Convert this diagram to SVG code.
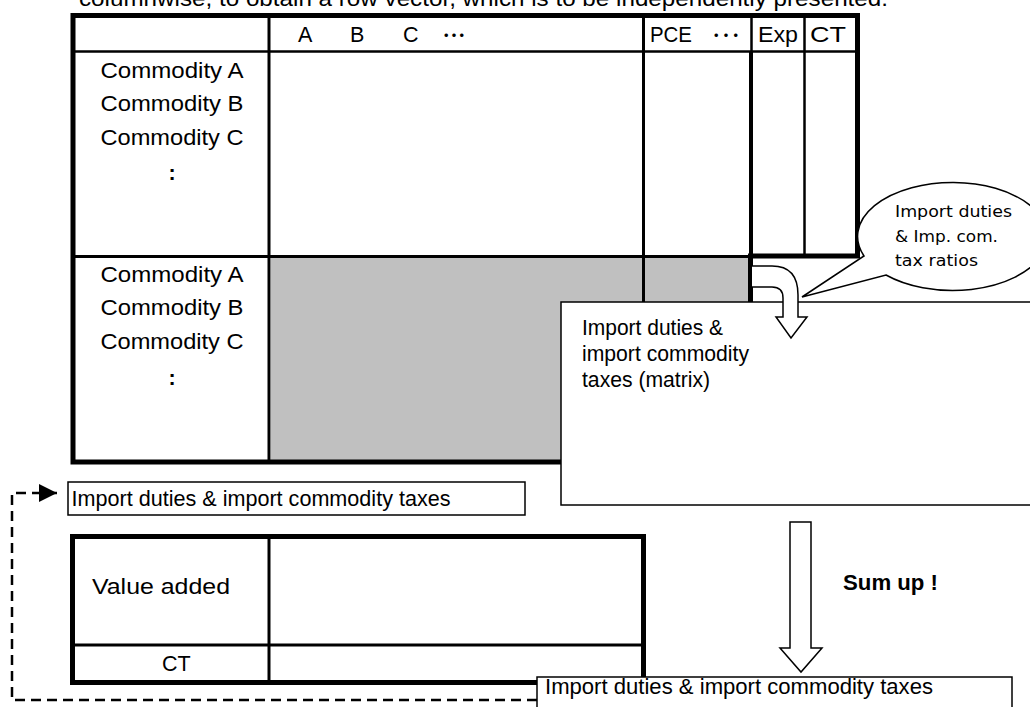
<svg xmlns="http://www.w3.org/2000/svg" width="1030" height="707" viewBox="0 0 1030 707">
<style>
.t{font-family:"Liberation Sans",Arial,sans-serif;font-size:21.5px;fill:#000}
.b{font-weight:bold}
.c{font-family:"DejaVu Sans","Noto Sans CJK JP",sans-serif;font-size:16.5px;fill:#000}
.d{font-family:"Liberation Sans","Noto Sans CJK JP",sans-serif;font-size:21px;fill:#000}
.thick{fill:none;stroke:#000;stroke-width:5}
.mid{fill:none;stroke:#000;stroke-width:3}
.thin{fill:none;stroke:#000;stroke-width:1.5}
.shape{fill:#fff;stroke:#000;stroke-width:1.5}
</style>
<defs>
<marker id="ah" markerUnits="userSpaceOnUse" markerWidth="20" markerHeight="20" refX="18" refY="9" orient="auto">
<path d="M0,0 L18,9 L0,18 Z" fill="#000"/>
</marker>
</defs>
<rect width="1030" height="707" fill="#fff"/>
<text class="t" x="79" y="6" textLength="809" lengthAdjust="spacingAndGlyphs">columnwise, to obtain a row vector, which is to be independently presented.</text>

<g id="io-table">
<rect x="271" y="258" width="478" height="203" fill="#c0c0c0"/>
<path class="thick" d="M73,15.5 H857.5 V256 H750.5 V462 H73 Z"/>
<line class="mid" x1="73" y1="51.5" x2="857" y2="51.5" style="stroke-width:2.5"/>
<line class="mid" x1="73" y1="256.5" x2="750" y2="256.5"/>
<line class="mid" x1="269" y1="15" x2="269" y2="462"/>
<line class="mid" x1="643.5" y1="15" x2="643.5" y2="462"/>
<line class="mid" x1="751.5" y1="15" x2="751.5" y2="52" style="stroke-width:2.5"/>
<line class="mid" x1="751" y1="52" x2="751" y2="256" style="stroke-width:4"/>
<line class="mid" x1="804.5" y1="15" x2="804.5" y2="256" style="stroke-width:2.5"/>
<text class="t" x="298" y="42">A</text>
<text class="t" x="350" y="42">B</text>
<text class="t" x="403" y="42">C</text>
<text class="d" x="441" y="43" textLength="26" lengthAdjust="spacing">･･･</text>
<text class="t" x="650" y="42" textLength="42" lengthAdjust="spacingAndGlyphs">PCE</text>
<text class="d" x="711" y="43" textLength="30" lengthAdjust="spacing">･･･</text>
<text class="t" x="758" y="42" textLength="40" lengthAdjust="spacingAndGlyphs">Exp</text>
<text class="t" x="810" y="42" textLength="36" lengthAdjust="spacingAndGlyphs">CT</text>
<text class="t" x="172" y="78" text-anchor="middle" textLength="143" lengthAdjust="spacingAndGlyphs">Commodity A</text>
<text class="t" x="172" y="111" text-anchor="middle" textLength="143" lengthAdjust="spacingAndGlyphs">Commodity B</text>
<text class="t" x="172" y="145" text-anchor="middle" textLength="143" lengthAdjust="spacingAndGlyphs">Commodity C</text>
<text class="t b" x="172" y="180" text-anchor="middle">:</text>
<text class="t" x="172" y="282" text-anchor="middle" textLength="143" lengthAdjust="spacingAndGlyphs">Commodity A</text>
<text class="t" x="172" y="315" text-anchor="middle" textLength="143" lengthAdjust="spacingAndGlyphs">Commodity B</text>
<text class="t" x="172" y="349" text-anchor="middle" textLength="143" lengthAdjust="spacingAndGlyphs">Commodity C</text>
<text class="t b" x="172" y="385" text-anchor="middle">:</text>
</g>

<g id="matrix-box">
<rect class="shape" x="561" y="302" width="480" height="203"/>
<text class="t" x="582" y="335" textLength="141" lengthAdjust="spacingAndGlyphs">Import duties &amp;</text>
<text class="t" x="582" y="361" textLength="167" lengthAdjust="spacingAndGlyphs">import commodity</text>
<text class="t" x="582" y="387" textLength="128" lengthAdjust="spacingAndGlyphs">taxes (matrix)</text>
</g>

<g id="callout">
<path class="shape" d="M864,256 A95,54 0 1 1 886,275 L802,297 Z"/>
<text class="c" x="895" y="217" textLength="117" lengthAdjust="spacingAndGlyphs">Import duties</text>
<text class="c" x="895" y="242" textLength="103" lengthAdjust="spacingAndGlyphs">&amp; Imp. com.</text>
<text class="c" x="895" y="266" textLength="83" lengthAdjust="spacingAndGlyphs">tax ratios</text>
</g>

<g id="row-vector-box">
<rect class="thin" x="68" y="482" width="457" height="33"/>
<text class="t" x="71.5" y="506" textLength="379" lengthAdjust="spacingAndGlyphs">Import duties &amp; import commodity taxes</text>
</g>

<g id="va-table">
<rect class="thick" x="72.5" y="536.5" width="571" height="146"/>
<line class="mid" x1="269" y1="537" x2="269" y2="682"/>
<line class="mid" x1="73" y1="645" x2="643" y2="645"/>
<text class="t" x="92" y="594" textLength="138" lengthAdjust="spacingAndGlyphs">Value added</text>
<text class="t" x="162" y="671">CT</text>
</g>

<g id="sum-box">
<rect class="shape" x="537" y="677" width="475" height="40"/>
<text class="t" x="545" y="694" textLength="388" lengthAdjust="spacingAndGlyphs">Import duties &amp; import commodity taxes</text>
</g>

<g id="sum-label">
<text class="t b" x="843" y="590" textLength="95" lengthAdjust="spacingAndGlyphs">Sum up !</text>
</g>

<g id="connectors">
<path class="shape" d="M752,266 H772 Q798,266 798,295 V317 H807 L791,338 L776,317 H783 V298 Q783,287 772,287 H752"/>
<path class="shape" d="M790,522 H811 V648 H822 L801,672 L780,648 H790 Z"/>
<path d="M537,700 H12 V493 H57" fill="none" stroke="#000" stroke-width="2.5" stroke-dasharray="10 6" marker-end="url(#ah)"/>
</g>
</svg>
